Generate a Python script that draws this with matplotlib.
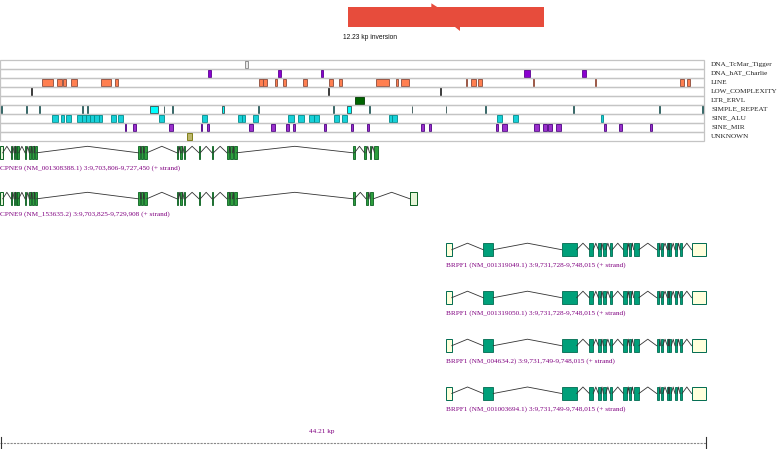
import matplotlib
matplotlib.use("Agg")
import matplotlib.pyplot as plt
from matplotlib.patches import Rectangle, Polygon

# region: 3:9,703,805 - 9,748,015 (44.21 kb); all positions below in kb from region start
SPAN = 44.21
PX = SPAN / 706.0  # kb per pixel of the drawing

inversion = (21.81, 34.04)
inversion_label = "12.23 kp inversion"

repeat_classes = ["DNA_TcMar_Tigger", "DNA_hAT_Charlie", "LINE", "LOW_COMPLEXITY",
                  "LTR_ERVL", "SIMPLE_REPEAT", "SINE_ALU", "SINE_MIR", "UNKNOWN"]
repeat_fill = ["#e8e8e8", "#8a00d0", "#ff7f50", "#303030", "#006400",
               "#00ffff", "#17d0d8", "#9a30cc", "#bdb76b"]
repeat_edge = ["#808080", "#5a0090", "#8b4a3a", "#303030", "#003a00",
               "#2f4f4f", "#008b8b", "#4b0082", "#707000"]

tigger = [(15.34, 15.50)]
hat_charlie = [(13.03, 13.19), (17.39, 17.60), (20.08, 20.25), (32.81, 33.19), (36.46, 36.68)]
line_rep = [(2.61, 3.30), (3.59, 3.86), (3.96, 4.15), (4.43, 4.84), (6.32, 6.95), (7.22, 7.39),
            (16.20, 16.47), (16.47, 16.70), (17.24, 17.36), (17.74, 17.91), (18.99, 19.24),
            (20.58, 20.87), (21.21, 21.40), (23.55, 24.38), (24.80, 24.90), (25.13, 25.61),
            (29.18, 29.26), (29.49, 29.79), (29.93, 30.20), (33.38, 33.46), (37.24, 37.32),
            (42.60, 42.81), (43.04, 43.19)]
low_complexity = [(1.94, 2.00), (20.56, 20.62), (27.58, 27.64)]
ltr_ervl = [(22.23, 22.78)]
simple_repeat = [(0.08, 0.14), (1.60, 1.66), (2.46, 2.52), (5.15, 5.21), (5.46, 5.52),
                 (9.41, 9.89), (10.24, 10.30), (10.80, 10.86), (13.88, 14.05), (16.17, 16.23),
                 (20.87, 20.93), (21.75, 21.96), (23.10, 23.16), (25.77, 25.83), (27.90, 27.96),
                 (30.39, 30.45), (35.91, 35.97), (41.24, 41.30), (43.97, 44.03)]
sine_alu = [(3.28, 3.61), (3.84, 4.01), (4.13, 4.45), (4.84, 5.12), (5.12, 5.39), (5.39, 5.64),
            (5.64, 5.91), (5.91, 6.18), (6.22, 6.37), (6.95, 7.25), (7.41, 7.72), (9.98, 10.27),
            (12.67, 12.94), (14.88, 15.15), (15.15, 15.36), (15.86, 16.18), (18.05, 18.39),
            (18.68, 19.02), (19.37, 19.66), (19.66, 20.00), (20.93, 21.23), (21.44, 21.75),
            (24.36, 24.53), (24.53, 24.84), (31.14, 31.45), (32.14, 32.46), (37.62, 37.78)]
sine_mir = [(7.83, 7.91), (8.31, 8.52), (10.60, 10.81), (12.61, 12.67), (12.94, 13.07),
            (15.57, 15.82), (16.97, 17.24), (17.91, 18.08), (18.37, 18.49), (20.31, 20.43),
            (21.98, 22.12), (22.96, 23.11), (26.38, 26.57), (26.86, 26.97), (31.04, 31.17),
            (31.45, 31.77), (33.46, 33.75), (34.02, 34.23), (34.32, 34.55), (34.82, 35.11),
            (37.82, 37.93), (38.76, 38.95), (40.70, 40.85)]
unknown = [(11.73, 12.02)]
repeats = [tigger, hat_charlie, line_rep, low_complexity, ltr_ervl,
           simple_repeat, sine_alu, sine_mir, unknown]

# transcripts: coding exons and UTR boxes (kb from region start)
cpne9_exons = [(0.69, 0.75), (0.88, 0.96), (1.00, 1.08), (1.08, 1.17), (1.57, 1.65),
               (1.83, 1.92), (2.02, 2.13), (2.17, 2.30), (8.66, 8.79), (8.85, 8.97),
               (9.04, 9.19), (11.08, 11.17), (11.29, 11.38), (11.52, 11.60), (12.46, 12.54),
               (13.28, 13.36), (14.21, 14.34), (14.43, 14.56), (14.65, 14.81)]
cpne9_a_tail = [(22.11, 22.20), (22.82, 22.92), (23.14, 23.23), (23.45, 23.645)]
cpne9_b_tail = [(22.11, 22.20), (22.92, 23.04), (23.17, 23.38), (25.67, 25.77)]
brpf1_exons = [(30.26, 30.89), (35.17, 36.11), (36.90, 37.15), (37.47, 37.62), (37.78, 37.93),
               (38.20, 38.34), (39.03, 39.28), (39.41, 39.53), (39.68, 40.01), (41.12, 41.29),
               (41.37, 41.50), (41.79, 41.87), (41.91, 42.04), (42.27, 42.41), (42.58, 42.71)]

transcripts = [
    ("CPNE9 (NM_001308388.1) 3:9,703,806-9,727,450 (+ strand)",
     cpne9_exons + cpne9_a_tail, [(0.0, 0.17)], "#2e9e3e", "#0a6020", "#e6f5d8"),
    ("CPNE9 (NM_153635.2) 3:9,703,825-9,729,908 (+ strand)",
     cpne9_exons + cpne9_b_tail, [(0.0, 0.17), (25.67, 26.10)], "#2e9e3e", "#0a6020", "#e6f5d8"),
    ("BRPF1 (NM_001319049.1) 3:9,731,728-9,748,015 (+ strand)",
     brpf1_exons, [(27.92, 28.29), (43.31, 44.21)], "#00a07a", "#006b50", "#ffffdc"),
    ("BRPF1 (NM_001319050.1) 3:9,731,728-9,748,015 (+ strand)",
     brpf1_exons, [(27.92, 28.29), (43.31, 44.21)], "#00a07a", "#006b50", "#ffffdc"),
    ("BRPF1 (NM_004634.2) 3:9,731,749-9,748,015 (+ strand)",
     brpf1_exons, [(27.92, 28.29), (43.31, 44.21)], "#00a07a", "#006b50", "#ffffdc"),
    ("BRPF1 (NM_001003694.1) 3:9,731,749-9,748,015 (+ strand)",
     brpf1_exons, [(27.92, 28.29), (43.31, 44.21)], "#00a07a", "#006b50", "#ffffdc"),
]
track_y = [152.8, 198.8, 249.7, 297.7, 345.7, 393.5]

scale_label = "44.21 kp"

SERIF = "Liberation Serif"
fig = plt.figure(figsize=(7.8, 4.49), dpi=100)
ax = fig.add_axes([0, 0, 1, 1])
ax.set_xlim(0, 780 * PX)
ax.set_ylim(449, 0)
ax.axis("off")

# inversion arrow
i0, i1 = inversion
mid = (i0 + i1) / 2
ax.add_patch(Rectangle((i0, 7.3), i1 - i0, 19.4, color="#e74c3c", lw=0))
ax.add_patch(Polygon([(mid - 14.6 * PX, 7.5), (mid - 14.6 * PX, 3.3), (mid - 8 * PX, 7.5)],
                     color="#e74c3c", lw=0))
ax.add_patch(Polygon([(mid + 8.7 * PX, 26.5), (mid + 14.4 * PX, 26.5), (mid + 14.4 * PX, 30.7)],
                     color="#e74c3c", lw=0))
ax.text(i0 - 5.5 * PX, 37.5, inversion_label, fontsize=4.8, family="Liberation Sans",
        va="center", ha="left", color="#111111")

# repeat tracks
row_top, row_h = 59.7, 9.0
for i, (name, feats) in enumerate(zip(repeat_classes, repeats)):
    y0 = row_top + i * row_h
    ax.add_patch(Rectangle((0, y0), 704 * PX, row_h, fill=False, ec="#c4c4c4", lw=0.9))
    for s, e in feats:
        ax.add_patch(Rectangle((s, y0 + 0.8), e - s, row_h - 1.2, fc=repeat_fill[i],
                               ec=repeat_edge[i], lw=0.6))
    ax.text(711 * PX, y0 + row_h / 2, name, fontsize=5.2, family=SERIF,
            va="center", ha="left", color="#222222")

# transcripts
half = 6.5
for (label, exons, utrs, fc, ec, utr_fc), yc in zip(transcripts, track_y):
    blocks = sorted([(s, e, False) for s, e in exons] + [(s, e, True) for s, e in utrs])
    for (s0, e0, _), (s1, e1, _) in zip(blocks[:-1], blocks[1:]):
        if s1 > e0:
            ax.plot([e0, (e0 + s1) / 2, s1], [yc, yc - half, yc], color="#333333", lw=0.6)
    for s, e, is_utr in blocks:
        if is_utr:
            ax.add_patch(Rectangle((s, yc - half), e - s, 2 * half, fc=utr_fc, ec=ec, lw=0.7))
        else:
            ax.add_patch(Rectangle((s, yc - half), e - s, 2 * half, fc=fc, ec=ec, lw=0.6))
    ax.text(blocks[0][0], yc + 15.5, label, fontsize=5.2, family=SERIF,
            va="center", ha="left", color="#800080")

# scale bar
ax.plot([0, SPAN], [443.3, 443.3], color="#888888", lw=0.8, ls=(0, (2, 1)))
ax.plot([0.5 * PX, 0.5 * PX], [437.3, 449], color="#333333", lw=0.8)
ax.plot([SPAN, SPAN], [437.3, 449], color="#333333", lw=0.8)
ax.text(322 * PX, 432, scale_label, fontsize=5.2, family=SERIF,
        va="center", ha="center", color="#800080")

fig.savefig("out.png", dpi=100)
